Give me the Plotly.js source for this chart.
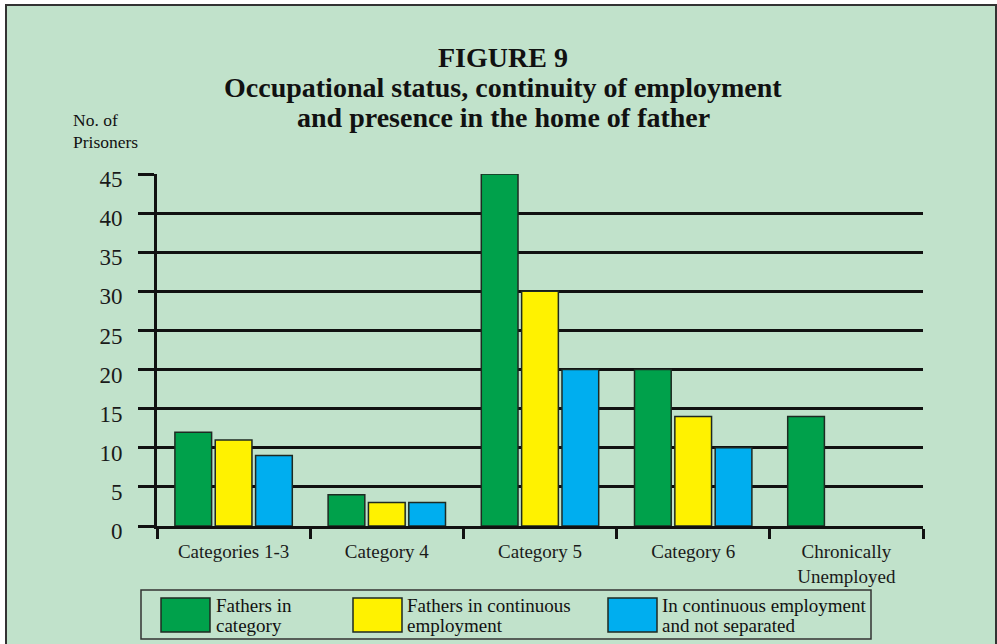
<!DOCTYPE html>
<html>
<head>
<meta charset="utf-8">
<script src="https://cdn.plot.ly/plotly-3.0.1.min.js"></script>
<style>
  html, body { margin: 0; padding: 0; background: #ffffff; }
  #chart { width: 997px; height: 644px; }
</style>
</head>
<body>
<div id="chart"></div>
<script>
// ---- Data ----
const categories = ["Categories 1-3", "Category 4", "Category 5", "Category 6", "Chronically<br>Unemployed"];
const fathersInCategory = [12, 4, 45, 20, 14];
const fathersContinuous = [11, 3, 30, 14, null];
const continuousNotSeparated = [9, 3, 20, 10, null];
const seriesNames = ["Fathers in<br>category", "Fathers in continuous<br>employment", "In continuous employment<br>and not separated"];
const seriesColors = ["#00A14B", "#FFF200", "#00AEEF"];
const yTicks = [0, 5, 10, 15, 20, 25, 30, 35, 40, 45];
const titleLines = ["FIGURE 9", "Occupational status, continuity of employment", "and presence in the home of father"];
const yAxisLabelLines = ["No. of", "Prisoners"];

// ---- Layout geometry (pixels) ----
const W = 997, H = 644;
const L = 157, R = 923, T = 174, B = 526;
const px = x => (x - L) / (R - L);
const py = y => (B - y) / (B - T);

const serif = "Liberation Serif, Times New Roman, serif";
const ink = "#111";
const bar = (y, i) => ({
  type: "bar", x: categories, y: y, name: seriesNames[i],
  marker: { color: seriesColors[i], line: { color: "#1e2a22", width: 1.5 } },
  showlegend: false, hoverinfo: "skip"
});

const data = [bar(fathersInCategory, 0), bar(fathersContinuous, 1), bar(continuousNotSeparated, 2)];

const shapes = [
  // outer frame
  { type: "rect", xref: "paper", yref: "paper", x0: px(6), x1: px(996), y0: py(5), y1: py(660),
    fillcolor: "#C1E2CB", line: { color: "#333", width: 2 }, layer: "below" },
  // legend box
  { type: "rect", xref: "paper", yref: "paper", x0: px(141), x1: px(871), y0: py(590), y1: py(639),
    fillcolor: "rgba(0,0,0,0)", line: { color: "#333", width: 1.5 } }
];
const annotations = [];
const titleY = [57, 88, 118];
titleLines.forEach((t, i) => annotations.push({
  xref: "paper", yref: "paper", x: px(503), y: py(titleY[i]), xanchor: "center", yanchor: "middle",
  text: "<b>" + t + "</b>", showarrow: false, font: { family: serif, size: 28, color: ink }
}));
const ylabY = [120, 142];
yAxisLabelLines.forEach((t, i) => annotations.push({
  xref: "paper", yref: "paper", x: px(71), y: py(ylabY[i]), xanchor: "left", yanchor: "middle",
  text: t, showarrow: false, font: { family: serif, size: 17.5, color: ink }
}));

const swatchX = [161, 353, 608];
const textX = [214, 405, 660];
const legLineY = [605, 625];
for (let i = 0; i < 3; i++) {
  shapes.push({ type: "rect", xref: "paper", yref: "paper", x0: px(swatchX[i]), x1: px(swatchX[i] + 49),
    y0: py(598), y1: py(632), fillcolor: seriesColors[i], line: { color: "#1e2a22", width: 1.5 } });
  seriesNames[i].split("<br>").forEach((t, j) => annotations.push({
    xref: "paper", yref: "paper", x: px(textX[i]), y: py(legLineY[j]), xanchor: "left", yanchor: "middle",
    text: t, showarrow: false, font: { family: serif, size: 19, color: ink }
  }));
}

const layout = {
  width: W, height: H,
  margin: { l: L, r: W - R, t: T, b: H - B },
  paper_bgcolor: "#ffffff",
  plot_bgcolor: "rgba(0,0,0,0)",
  barmode: "group", bargap: 0.21, bargroupgap: 0.09,
  showlegend: false,
  xaxis: {
    type: "category", range: [-0.5, 4.5], tickson: "boundaries",
    ticks: "outside", ticklen: 10, tickwidth: 3, tickcolor: ink,
    showline: true, linecolor: ink, linewidth: 3, showgrid: false,
    ticklabelstandoff: 6,
    tickfont: { family: serif, size: 19, color: "#1a1a1a" }, fixedrange: true
  },
  yaxis: {
    range: [0, 45], tickvals: yTicks, ticktext: yTicks.map(String),
    ticks: "outside", ticklen: 16, tickwidth: 3, tickcolor: ink,
    showline: true, linecolor: ink, linewidth: 3,
    showgrid: true, gridcolor: ink, gridwidth: 3, zeroline: false,
    ticklabelstandoff: 11, ticklabelshift: 5,
    tickfont: { family: serif, size: 23, color: "#1a1a1a" }, fixedrange: true
  },
  shapes: shapes,
  annotations: annotations
};

Plotly.newPlot("chart", data, layout, { displayModeBar: false, staticPlot: true });
</script>
</body>
</html>
